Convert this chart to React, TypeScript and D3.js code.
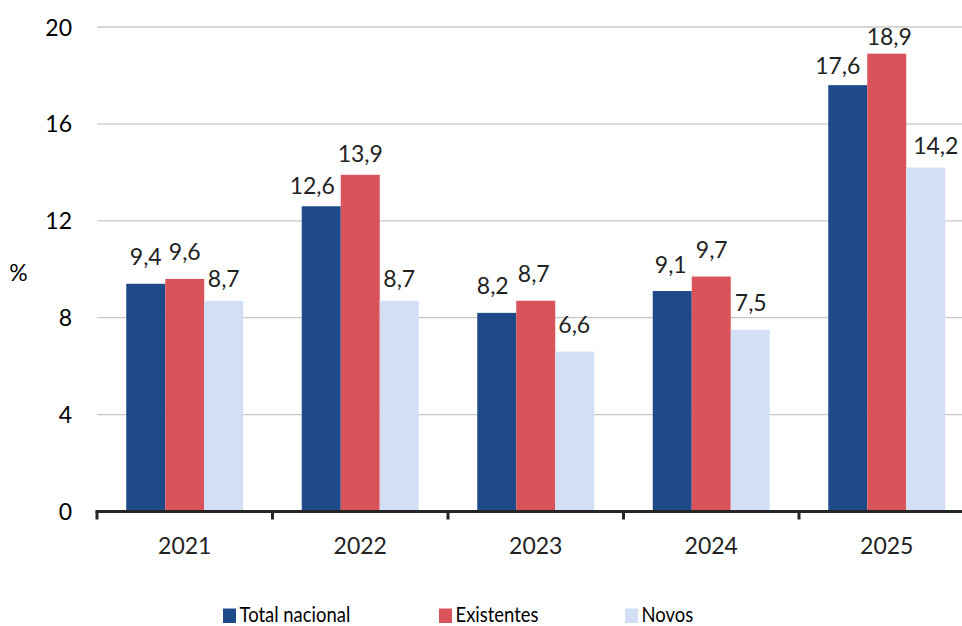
import React from "react";
import * as d3 from "d3";

const years = ["2021", "2022", "2023", "2024", "2025"];
const seriesNames = ["Total nacional", "Existentes", "Novos"];
const totalNacional = [9.4, 12.6, 8.2, 9.1, 17.6];
const existentes = [9.6, 13.9, 8.7, 9.7, 18.9];
const novos = [8.7, 8.7, 6.6, 7.5, 14.2];
const yTicks = [0, 4, 8, 12, 16, 20];
const colors = ["#1F4A8A", "#D9535B", "#D3DFF5"];

// per-label placement tweaks [series][year] -> [dx, dy], so crowded labels don't collide
const labelNudge: [number, number][][] = [
  [[0, 0], [-9, 6.5], [-4, 0], [-1.5, 0], [-10, 7]],
  [[0, 0], [0, 5.5], [-2, 0], [0.5, 0], [2.5, 9.5]],
  [[0, 4.5], [0, 4.5], [-0.5, 0], [0.5, 0], [10, 4.5]],
];

const W = 962;
const H = 626;
const FONT = "Lato, 'Open Sans', sans-serif";

export default function App() {
  const series = [totalNacional, existentes, novos];
  // the last category band runs past the right edge of the canvas
  const x0 = d3.scaleBand<string>().domain(years).range([97, 974.5]).paddingInner(0).paddingOuter(0);
  const groupW = 117;
  const x1 = d3.scaleBand<number>().domain([0, 1, 2]).range([0, groupW]);
  const y = d3.scaleLinear().domain([0, 20]).range([511.5, 27]);
  const fmt = (v: number) => v.toFixed(1).replace(".", ",");
  const bounds = years.map((d) => x0(d)!);

  return (
    <svg width={W} height={H} style={{ position: "absolute", left: 0, top: 0, background: "#fff" }}>
      {yTicks.filter((t) => t > 0).map((t) => (
        <line key={t} x1={97} x2={962} y1={y(t)} y2={y(t)} stroke="#C8C8C8" strokeWidth={1.3} />
      ))}
      {yTicks.map((t) => (
        <text key={t} x={72} y={y(t) + 8.5} textAnchor="end" fontFamily={FONT} fontSize={23} fill="#000">
          {t}
        </text>
      ))}
      <text x={18.5} y={281} textAnchor="middle" fontFamily={FONT} fontSize={23} fill="#000">%</text>
      {years.map((yr, i) => {
        const gx = x0(yr)! + (x0.bandwidth() - groupW) / 2;
        return (
          <g key={yr}>
            {series.map((s, j) => {
              const v = s[i];
              const bx = gx + x1(j)!;
              const [dx, dy] = labelNudge[j][i];
              return (
                <g key={j}>
                  <rect x={bx} y={y(v)} width={x1.bandwidth()} height={y(0) - y(v)} fill={colors[j]} />
                  <text x={bx + x1.bandwidth() / 2 + dx} y={y(v) - 18.5 + dy} textAnchor="middle" fontFamily={FONT} fontSize={23} fill="#222">
                    {fmt(v)}
                  </text>
                </g>
              );
            })}
            <text x={x0(yr)! + x0.bandwidth() / 2} y={554} textAnchor="middle" fontFamily={FONT} fontSize={23} fill="#222">
              {yr}
            </text>
          </g>
        );
      })}
      <line x1={95.5} x2={962} y1={y(0)} y2={y(0)} stroke="#262626" strokeWidth={3.2} />
      {bounds.map((b, i) => (
        <line key={i} x1={b} x2={b} y1={y(0)} y2={y(0) + 8} stroke="#262626" strokeWidth={3} />
      ))}
      {seriesNames.map((n, i) => {
        const lx = [223, 439, 625][i];
        return (
          <g key={n}>
            <rect x={lx} y={608.5} width={13} height={14.5} fill={colors[i]} />
            <text
              transform={`translate(${lx + 16.5},621.8) scale(0.9,1)`}
              fontFamily={FONT}
              fontSize={20.5}
              fill="#000"
            >
              {n}
            </text>
          </g>
        );
      })}
    </svg>
  );
}
